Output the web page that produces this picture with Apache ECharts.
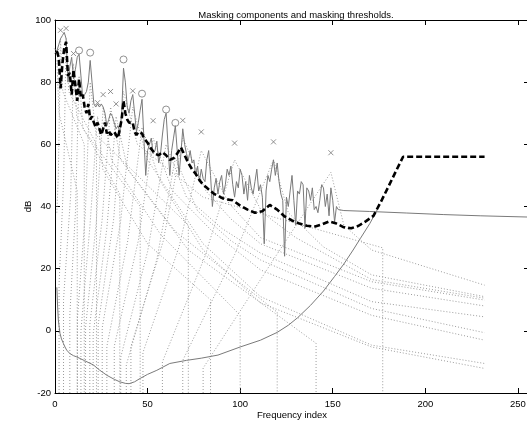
<!DOCTYPE html>
<html><head><meta charset="utf-8">
<script src="https://cdn.jsdelivr.net/npm/echarts@6/dist/echarts.min.js"></script>
<style>html,body{margin:0;padding:0;background:#fff}#c{width:527px;height:421px}</style>
</head><body><div id="c"></div>
<script>
// ---- tick labels ----
const xTicks = [0, 50, 100, 150, 200, 250];
const yTicks = [-20, 0, 20, 40, 60, 80, 100];

// ---- power spectrum (index 1..154), then smooth tail ----
const spectrumDb = [
  90, 92, 94, 95, 96, 94, 80, 85, 88, 81,
  84, 88, 89, 82, 75, 76, 77, 80, 87, 80,
  73, 72, 73, 72, 73, 72, 70, 66, 68, 70,
  69, 67, 65, 66, 64, 70, 84.5, 80, 72, 70,
  74, 76, 70, 64, 67, 71, 74.5, 62, 50, 58,
  60, 62, 57, 58, 61, 54, 57, 63, 68, 70,
  60, 50, 58, 62, 66, 58, 50, 57, 65, 60,
  57, 55, 58, 54, 55, 50, 53, 48, 52, 49,
  48, 55, 58, 50, 40, 46, 49, 44, 48, 50,
  44, 47, 52, 50, 53, 47, 43, 48, 46, 52,
  50, 44, 48, 42, 50, 46, 44, 48, 52, 45,
  47, 43, 28, 45, 50, 48, 52, 55, 50, 54,
  48, 44, 42, 24, 43, 40, 45, 50, 42, 34,
  45, 44, 48, 47, 33, 46, 45, 42, 46, 39,
  40, 38, 42, 47, 46, 40, 44, 37, 46, 42,
  35, 40, 39, 38.8
];
const spectrumTailIdx = [154, 156, 170, 190, 210, 230, 256];
const spectrumTailDb = [38.8, 38.7, 38.4, 37.9, 37.4, 37.0, 36.6];

// ---- global masking threshold ----
const thresholdIdx = [
  1, 2, 3, 4, 5, 6, 7, 8, 9, 10, 11, 12, 13, 14, 15, 16, 17, 18, 19, 20,
  21, 22, 23, 24, 25, 26, 27, 28, 29, 30, 31, 32, 33, 34, 35, 36, 37, 38, 39, 40,
  41, 42, 43, 44, 45, 46, 47, 48,
  50, 52, 54, 56, 58, 60, 62, 64, 66, 68, 70, 72, 74, 76, 78, 80, 82, 84, 86, 88,
  90, 92, 94, 96,
  100, 104, 108, 112, 116, 120, 124, 128, 132, 136, 140, 144, 148, 152, 156, 160,
  164, 168, 172, 176, 180, 184, 188, 192, 200, 208, 216, 224, 232
];
const thresholdDb = [
  90, 88, 78, 86, 91, 93, 82, 83, 76, 84, 79, 74, 81, 75, 76, 72, 70, 73, 68, 69,
  67, 65.5, 67, 65, 63, 62.5, 67, 63.5, 64.5, 63, 62.5, 64, 63, 62, 62.5, 68, 74, 70, 68, 67,
  67.5, 67, 64, 63, 64, 64.5, 63.5, 62,
  60.5, 58.5, 57, 56.5, 57.5, 56.5, 55, 55.5, 57, 59, 56.5, 54, 52, 50.5, 48.5, 47, 46, 45, 44, 43.5,
  42.8, 42.3, 42.2, 42,
  40.3, 39, 38, 38.5, 40.5, 39, 36.8, 35.5, 34.5, 33.8, 33.5, 34.2, 35.2, 34.5, 33.3, 33,
  33.8, 35.3, 37, 41.5, 46.3, 51.2, 56, 56, 56, 56, 56, 56, 56
];

// ---- absolute threshold of hearing ----
const athIdx = [1, 1.4, 1.8, 2.3, 2.7, 3.5, 4.5, 5.4, 6.3, 8, 10, 11.8, 16, 20.8, 24, 28, 32, 35, 38, 40, 43, 46, 50, 55, 62, 71, 79, 88, 100, 111, 120, 126, 131, 138, 145, 151, 156, 161, 165, 170, 174];
const athDb = [14, 8, 3.5, 1, -0.8, -2.6, -4, -5.2, -6.2, -7.3, -8, -8.4, -9.6, -11, -12.6, -14.3, -15.6, -16.4, -16.9, -17, -16.4, -15.3, -14, -12.7, -10.5, -9.5, -8.8, -7.8, -5.2, -3, -0.5, 1.8, 4.2, 8.2, 12.8, 17.5, 21.5, 26, 29.8, 34.5, 38.9];

// ---- maskers ----
const tonalIdx = [13, 19, 37, 47, 60, 65];
const tonalDb = [90.2, 89.5, 87.3, 76.3, 71.2, 66.9];
const nonTonalIdx = [1, 3, 6, 10, 23, 26, 30, 33, 42, 53, 69, 79, 97, 118, 149];
const nonTonalDb = [90, 96.7, 97.3, 89.2, 73.4, 76, 77, 73, 77.2, 67.6, 67.7, 64, 60.4, 60.8, 57.3];

// ---- individual masking thresholds (vertices) ----
const mask01 = [[1,87],[2.2,70],[12,45],[12,-20]];
const mask02 = [[1,38],[1.8,50],[3,94],[4.2,77],[15.8,60],[15.8,-20]];
const mask03 = [[2.2,-20],[2.2,15],[4.7,49],[6,94],[7.4,77],[22.4,60],[22.4,-20]];
const mask04 = [[4.6,-20],[4.6,10],[8.5,44],[10,86],[11.7,69],[35,44],[35,-20]];
const mask05 = [[8,-20],[8,5],[11.1,39],[13,82],[15.1,65],[46,40],[46,-20]];
const mask06 = [[12.1,-20],[12.1,4],[16.4,38],[19,80],[22.2,63],[72,34],[72,-20]];
const mask07 = [[14,-20],[14,0],[18.9,34],[23,69],[25.8,52],[50,28],[84,10],[84,-20]];
const mask08 = [[16.5,-20],[16.5,1],[22.3,35],[26,72],[30.5,55],[57,31],[100,5],[100,-20]];
const mask09 = [[18.8,-20],[18.8,2],[25.5,36],[30,72],[35.5,55],[65,32],[120,6],[120,-20]];
const mask10 = [[20.6,-20],[20.6,-1],[28,33],[33,69],[39.2,52],[72,26],[141,-4],[141,-20]];
const mask11 = [[23.3,-20],[23.3,2],[31.7,36],[37,77],[44.5,60],[80,43],[177,26.7],[177,-20]];
const mask12 = [[25.5,-20],[25.5,1],[35.4,35],[42,72],[50,55],[80,28],[111,11],[171,-4.6],[232,-10.5]];
const mask13 = [[28,-20],[28,-5],[39.3,29],[47,65.5],[56.5,48.5],[80,26],[111,9],[171,-5.2],[232,-12.1]];
const mask14 = [[32,-20],[32,-5],[45,29],[53,62],[63.5,45],[85,32],[111,19.6],[171,5],[232,-3]];
const mask15 = [[35.5,-20],[35.5,-8.5],[50,25.5],[60,60],[71,43],[90,33],[111,25],[171,9.4],[232,4.5]];
const mask16 = [[38.5,-20],[38.5,-11],[55,23],[65,55.6],[77,38.6],[95,29],[111,22.8],[171,7.2],[232,-0.6]];
const mask17 = [[41,-20],[41,-5],[58.5,29],[69,62],[81.5,45],[95,36],[111,28],[171,13.7],[232,8]];
const mask18 = [[47.5,-20],[47.5,-7],[67,27],[79,58],[94,41],[111,30],[171,15.8],[232,9.9]];
const mask19 = [[58,-20],[58,-10],[81,24],[97,55],[112,38],[130,30],[171,16.5],[232,10.5]];
const mask20 = [[69,-20],[69,-9.5],[97,24.5],[118,55],[126,38],[145,27],[171,18],[232,11]];
const mask21 = [[80,-20],[80,-12],[117,22],[149,51],[156,34],[171,26],[232,14.7]];
const maskLines = [mask01, mask02, mask03, mask04, mask05, mask06, mask07, mask08, mask09, mask10,
  mask11, mask12, mask13, mask14, mask15, mask16, mask17, mask18, mask19, mask20, mask21];

// ---- build ----
const FONT = 'Liberation Sans';
const zip = (a, b) => a.map((v, i) => [v, b[i]]);
const spectrumData = spectrumDb.map((v, i) => [i + 1, v]).concat(zip(spectrumTailIdx, spectrumTailDb).slice(1));

const axisCommon = {
  axisLine: { show: true, onZero: false, lineStyle: { color: '#000', width: 1 } },
  axisTick: { show: true, inside: true, length: 5, lineStyle: { color: '#000' } },
  splitLine: { show: false },
  nameMoveOverlap: false
};
const series = [];
maskLines.forEach((ln) => {
  series.push({ type: 'line', data: ln, symbol: 'none', silent: true,
    lineStyle: { color: '#9c9c9c', width: 1, type: [1, 2] } });
});
series.push({ type: 'line', data: zip(athIdx, athDb), symbol: 'none', silent: true,
  lineStyle: { color: '#7a7a7a', width: 1 } });
series.push({ type: 'line', data: spectrumData, symbol: 'none', silent: true,
  lineStyle: { color: '#7a7a7a', width: 1 } });
series.push({ type: 'line', data: zip(thresholdIdx, thresholdDb), symbol: 'none', silent: true,
  lineStyle: { color: '#000', width: 2.6, type: [6, 3] } });
series.push({ type: 'scatter', data: zip(tonalIdx, tonalDb), symbol: 'circle', symbolSize: 7, silent: true,
  itemStyle: { color: 'rgba(0,0,0,0)', borderColor: '#777', borderWidth: 1 } });
series.push({ type: 'scatter', data: zip(nonTonalIdx, nonTonalDb), symbol: 'path://M0 0L10 10M10 0L0 10', symbolSize: 5, silent: true,
  itemStyle: { color: 'none', borderColor: '#777', borderWidth: 1 } });

const chart = echarts.init(document.getElementById('c'), null, { renderer: 'canvas' });
chart.setOption({
  animation: false,
  backgroundColor: '#fff',
  title: {
    text: 'Masking components and masking thresholds.',
    left: 291, top: 5, textAlign: 'center',
    textStyle: { fontSize: 9.5, fontWeight: 'normal', color: '#000', fontFamily: FONT }
  },
  grid: { left: 55, top: 20, width: 474, height: 373, containLabel: false, outerBoundsMode: 'none' },
  xAxis: [
    Object.assign({ type: 'value', position: 'bottom', min: xTicks[0], max: 256, interval: xTicks[1] - xTicks[0],
      axisLabel: { color: '#000', fontSize: 9.5, margin: 6, fontFamily: FONT,
        formatter: (v) => (xTicks.indexOf(v) >= 0 ? String(v) : '') },
      name: 'Frequency index', nameLocation: 'middle', nameGap: 17,
      nameTextStyle: { color: '#000', fontSize: 9.5, fontFamily: FONT } }, axisCommon),
    Object.assign({ type: 'value', position: 'top', min: xTicks[0], max: 256, interval: xTicks[1] - xTicks[0],
      axisLabel: { show: false } }, axisCommon)
  ],
  yAxis: [
    Object.assign({ type: 'value', position: 'left', min: yTicks[0], max: yTicks[yTicks.length - 1], interval: yTicks[1] - yTicks[0],
      axisLabel: { color: '#000', fontSize: 9.5, margin: 4, fontFamily: FONT },
      name: 'dB', nameLocation: 'middle', nameGap: 22,
      nameTextStyle: { color: '#000', fontSize: 9.5, fontFamily: FONT } }, axisCommon),
    Object.assign({ type: 'value', position: 'right', min: yTicks[0], max: yTicks[yTicks.length - 1], interval: yTicks[1] - yTicks[0],
      axisLabel: { show: false } }, axisCommon)
  ],
  series: series
});
</script></body></html>
